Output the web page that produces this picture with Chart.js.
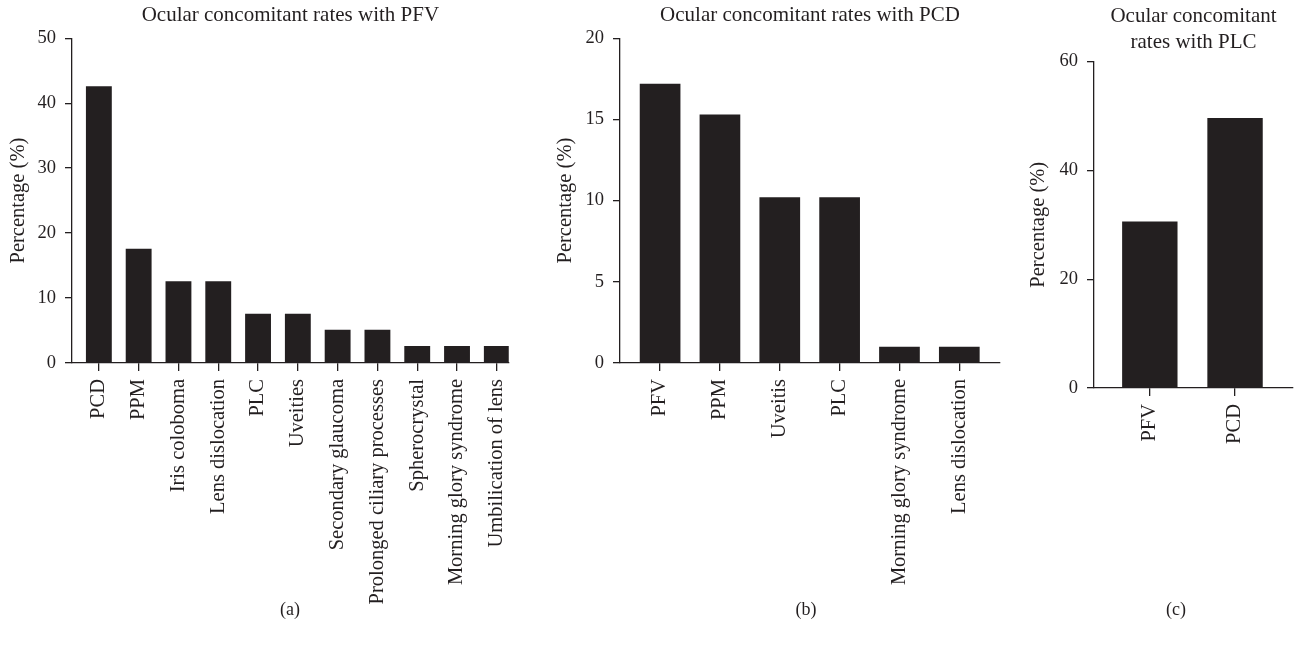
<!DOCTYPE html>
<html>
<head>
<meta charset="utf-8">
<script src="https://cdn.jsdelivr.net/npm/chart.js@4"></script>
<style>
  body { margin: 0; background: #fff; }
  #wrap { position: relative; width: 1294px; height: 648px; overflow: hidden; }
  canvas { position: absolute; top: 0; }
  .panel { position: absolute; font: 18px 'Liberation Serif', serif; color: #231f20; transform: translateX(-50%); }
</style>
</head>
<body>
<div id="wrap">
  <canvas id="ca" width="530" height="648" style="left:0"></canvas>
  <canvas id="cb" width="470" height="648" style="left:545px"></canvas>
  <canvas id="cc" width="274" height="648" style="left:1020px"></canvas>
  <div class="panel" style="left:290px;top:599px">(a)</div>
  <div class="panel" style="left:806px;top:599px">(b)</div>
  <div class="panel" style="left:1176px;top:599px">(c)</div>
</div>
<script>
// (a) PFV
var catsA = ['PCD', 'PPM', 'Iris coloboma', 'Lens dislocation', 'PLC', 'Uveities',
  'Secondary glaucoma', 'Prolonged ciliary processes', 'Spherocrystal',
  'Morning glory syndrome', 'Umbilication of lens']
var valsA = [42.6, 17.6, 12.6, 12.6, 7.6, 7.6, 5.1, 5.1, 2.6, 2.6, 2.6]
var ticksA = [0, 10, 20, 30, 40, 50]

// (b) PCD
var catsB = ['PFV', 'PPM', 'Uveitis', 'PLC', 'Morning glory syndrome', 'Lens dislocation']
var valsB = [17.2, 15.3, 10.2, 10.2, 1.0, 1.0]
var ticksB = [0, 5, 10, 15, 20]

// (c) PLC
var catsC = ['PFV', 'PCD']
var valsC = [30.6, 49.6]
var ticksC = [0, 20, 40, 60]

var ink = '#231f20'
var serif = "'Liberation Serif', 'Times New Roman', serif"

function makeChart(id, cats, vals, yTicks, title, o) {
    var ctx = document.getElementById(id).getContext('2d')
    return new Chart(ctx, {
        type: 'bar',
        data: {
            datasets: [{
                data: vals.map(function (v, i) { return { x: i, y: v } }),
                backgroundColor: ink,
                borderWidth: 0,
                categoryPercentage: 1,
                barPercentage: o.barPct
            }]
        },
        options: {
            responsive: false,
            animation: false,
            devicePixelRatio: 1,
            layout: { padding: { left: 0, right: o.padRight, top: 0, bottom: 0 } },
            plugins: {
                legend: { display: false },
                tooltip: { enabled: false },
                title: {
                    display: true,
                    text: title,
                    fullSize: false,
                    color: ink,
                    font: { family: serif, size: 21, weight: 'normal', lineHeight: o.titleLH },
                    padding: o.titlePad
                }
            },
            scales: {
                x: {
                    type: 'linear',
                    offset: false,
                    min: o.xMin,
                    max: o.xMax,
                    afterBuildTicks: function (s) { s.ticks = cats.map(function (c, i) { return { value: i } }) },
                    afterFit: function (s) { s.height = 648 - o.bottom },
                    ticks: {
                        autoSkip: false,
                        maxRotation: 90,
                        minRotation: 90,
                        padding: 8,
                        color: ink,
                        font: { family: serif, size: 20.5 },
                        callback: function (v) { return cats[v] }
                    },
                    grid: { offset: false, drawOnChartArea: false, drawTicks: true, tickLength: 8, color: ink, lineWidth: 1.3 },
                    border: { display: true, color: ink, width: 1.3 }
                },
                y: {
                    min: 0,
                    max: yTicks[yTicks.length - 1],
                    afterBuildTicks: function (s) { s.ticks = yTicks.map(function (v) { return { value: v } }) },
                    afterFit: function (s) { s.width = o.yWidth },
                    ticks: { padding: 9, color: ink, font: { family: serif, size: 18.5 } },
                    grid: { drawOnChartArea: false, drawTicks: true, tickLength: 7, color: ink, lineWidth: 1.3 },
                    border: { display: true, color: ink, width: 1.3 },
                    title: {
                        display: true,
                        text: 'Percentage (%)',
                        color: ink,
                        font: { family: serif, size: 20.5 },
                        padding: { top: o.yTitlePad, bottom: 0 }
                    }
                }
            }
        }
    })
}

makeChart('ca', catsA, valsA, ticksA, 'Ocular concomitant rates with PFV', {
    barPct: 0.65, padRight: 20, xMin: -0.675, xMax: 10.3, bottom: 363, yWidth: 72,
    titleLH: 1.2, titlePad: { top: 3, bottom: 10 }, yTitlePad: 6
})
makeChart('cb', catsB, valsB, ticksB, 'Ocular concomitant rates with PCD', {
    barPct: 0.68, padRight: 15, xMin: -0.67, xMax: 5.68, bottom: 363, yWidth: 75,
    titleLH: 1.2, titlePad: { top: 3, bottom: 10 }, yTitlePad: 8
})
makeChart('cc', catsC, valsC, ticksC, ['Ocular concomitant', 'rates with PLC'], {
    barPct: 0.65, padRight: 1, xMin: -0.655, xMax: 1.68, bottom: 388, yWidth: 74,
    titleLH: 1.25, titlePad: { top: 3, bottom: 6 }, yTitlePad: 6
})
</script>
</body>
</html>
